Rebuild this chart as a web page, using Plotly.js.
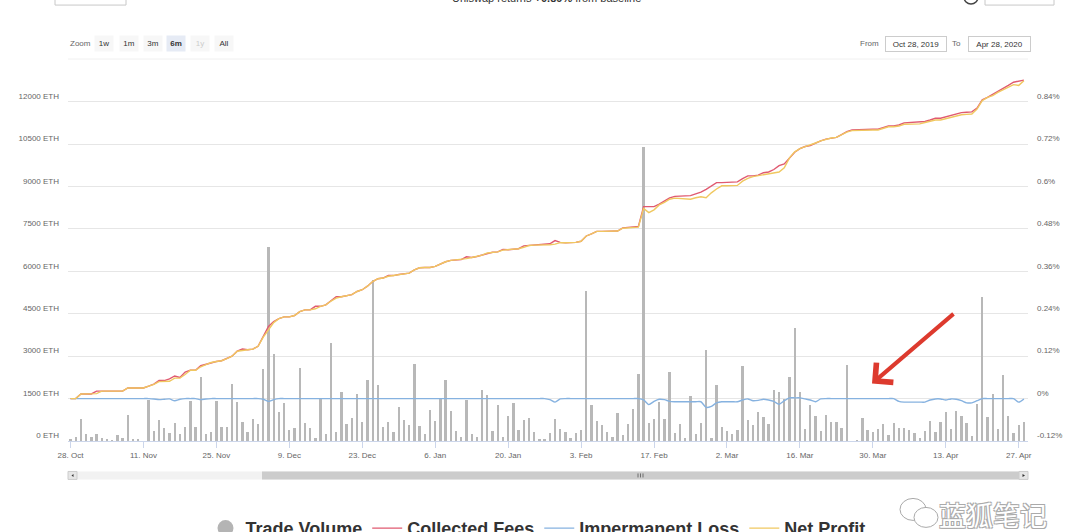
<!DOCTYPE html>
<html><head><meta charset="utf-8">
<script src="https://cdn.plot.ly/plotly-3.0.1.min.js"></script>
<style>html,body{margin:0;padding:0;overflow:hidden;background:#fff}#chart{width:1080px;height:560px}</style>
</head><body><div id="chart"></div>
<script>
// ---- data ----
const startDate = [2019, 9, 28]; // 28 Oct 2019, one value per day
const tradeVolume = [60,150,765,260,150,235,95,80,35,210,
120,905,60,60,0,1435,350,730,470,295,
650,235,505,1410,495,2270,260,330,1410,505,
505,2025,1390,670,320,790,610,2550,6850,3080,
1025,1330,390,450,2590,650,470,95,1470,260,
3470,320,1730,590,825,1670,670,2150,5700,1975,
495,670,320,1210,740,565,2740,530,235,1080,
705,1495,2140,1060,350,150,1435,235,150,1800,
1625,350,1270,150,880,1350,390,730,800,330,
60,60,270,790,410,330,120,270,375,5300,
1260,705,565,330,140,975,210,590,1120,2380,
10400,625,790,1390,765,2435,270,590,95,1590,
260,650,3210,120,1975,495,350,260,390,2650,
740,565,1035,850,610,1790,1740,1470,2270,4000,
1740,410,1270,880,350,905,670,670,470,2700,
15,35,825,375,320,435,590,200,650,450,
470,390,270,95,350,705,320,670,1025,410,
1050,900,620,175,1300,5100,860,1670,410,2350,
880,270,565,670];
const netProfit = [0,0,0.013,0.013,0.013,0.014,0.021,0.021,0.021,0.021,
0.021,0.030,0.030,0.030,0.030,0.035,0.040,0.048,0.049,0.049,
0.058,0.058,0.068,0.080,0.080,0.090,0.096,0.102,0.105,0.107,
0.113,0.120,0.134,0.137,0.138,0.140,0.148,0.174,0.196,0.215,
0.226,0.231,0.231,0.235,0.246,0.251,0.251,0.254,0.261,0.265,
0.276,0.284,0.288,0.292,0.294,0.303,0.308,0.318,0.331,0.339,
0.341,0.346,0.348,0.351,0.352,0.355,0.364,0.370,0.371,0.371,
0.374,0.381,0.387,0.391,0.392,0.393,0.396,0.399,0.402,0.406,
0.412,0.414,0.415,0.420,0.421,0.422,0.424,0.428,0.433,0.434,
0.434,0.435,0.435,0.437,0.441,0.441,0.441,0.442,0.445,0.460,
0.466,0.473,0.473,0.473,0.473,0.474,0.482,0.483,0.484,0.485,
0.538,0.526,0.534,0.548,0.555,0.564,0.567,0.566,0.565,0.564,
0.568,0.571,0.568,0.582,0.593,0.602,0.602,0.602,0.603,0.615,
0.623,0.628,0.631,0.634,0.637,0.639,0.641,0.653,0.681,0.698,
0.707,0.713,0.717,0.723,0.729,0.734,0.737,0.739,0.746,0.754,
0.758,0.759,0.760,0.760,0.760,0.760,0.765,0.769,0.769,0.771,
0.776,0.777,0.777,0.777,0.781,0.785,0.788,0.788,0.792,0.796,
0.800,0.803,0.804,0.805,0.819,0.843,0.852,0.857,0.866,0.873,
0.882,0.888,0.886,0.899];
const collectedFees = [0,0,0.013,0.013,0.013,0.021,0.021,0.021,0.021,0.021,
0.021,0.030,0.030,0.030,0.030,0.035,0.041,0.051,0.051,0.056,
0.064,0.060,0.075,0.080,0.080,0.093,0.097,0.102,0.105,0.107,
0.113,0.120,0.134,0.140,0.138,0.140,0.148,0.176,0.204,0.218,
0.226,0.231,0.231,0.235,0.246,0.251,0.251,0.261,0.261,0.265,
0.276,0.288,0.288,0.292,0.294,0.303,0.308,0.318,0.331,0.339,
0.341,0.348,0.348,0.351,0.352,0.355,0.364,0.370,0.371,0.371,
0.374,0.381,0.387,0.391,0.392,0.393,0.401,0.399,0.402,0.406,
0.412,0.414,0.415,0.422,0.421,0.422,0.424,0.432,0.433,0.434,
0.434,0.435,0.438,0.447,0.442,0.441,0.441,0.442,0.445,0.460,
0.466,0.473,0.473,0.473,0.473,0.474,0.483,0.484,0.486,0.487,
0.543,0.543,0.543,0.550,0.558,0.568,0.572,0.572,0.572,0.574,
0.579,0.584,0.592,0.601,0.611,0.611,0.611,0.611,0.613,0.622,
0.630,0.630,0.632,0.639,0.641,0.648,0.659,0.664,0.679,0.697,
0.707,0.713,0.716,0.723,0.729,0.734,0.737,0.739,0.747,0.755,
0.760,0.761,0.762,0.762,0.762,0.762,0.767,0.771,0.771,0.774,
0.780,0.781,0.781,0.781,0.784,0.788,0.793,0.793,0.797,0.801,
0.805,0.809,0.810,0.811,0.822,0.845,0.852,0.860,0.870,0.878,
0.886,0.895,0.899,0.901];
const impermanentLoss = [0,0,0,0,0,0,0,0,0,0,
0,0,0,0,0,0,-0.001,-0.003,-0.002,-0.001,
-0.006,-0.002,0,0,0,-0.003,-0.001,0,0,0,
0,0,0,0,0,0,0,-0.002,-0.008,-0.003,
0,0,0,0,0,0,0,0,0,0,
0,0,0,0,0,0,0,0,0,0,
0,0,0,0,0,0,0,0,0,0,
0,0,0,0,0,0,0,0,0,0,
0,0,0,0,0,0,0,0,0,0,
0,0,-0.003,-0.010,-0.001,0,0,0,0,0,
0,0,0,0,0,0,0,0,0,0,
-0.004,-0.017,-0.008,-0.002,-0.003,-0.008,-0.009,-0.009,-0.009,-0.009,
-0.009,-0.009,-0.025,-0.022,-0.012,-0.009,-0.009,-0.009,-0.009,-0.004,
-0.001,-0.006,-0.005,-0.002,-0.004,-0.008,-0.016,-0.006,0.002,0.002,
0.002,-0.001,-0.004,-0.009,-0.001,0,0,0,0,0,
0,0,0,0,0,0,0,0,0,-0.008,
-0.010,-0.010,-0.010,-0.010,-0.010,-0.004,-0.001,-0.001,-0.004,-0.001,
-0.002,-0.006,-0.012,-0.012,-0.006,0,0,0,0,0,
0,0,-0.010,-0.001];
const leftTicks = [0,1500,3000,4500,6000,7500,9000,10500,12000];
const leftTickText = ['0 ETH','1500 ETH','3000 ETH','4500 ETH','6000 ETH','7500 ETH','9000 ETH','10500 ETH','12000 ETH'];
const rightTicks = [-0.12,0,0.12,0.24,0.36,0.48,0.6,0.72,0.84];
const rightTickText = ['-0.12%','0%','0.12%','0.24%','0.36%','0.48%','0.6%','0.72%','0.84%'];
const xTickDates = ['2019-10-28','2019-11-11','2019-11-25','2019-12-09','2019-12-23','2020-01-06','2020-01-20','2020-02-03','2020-02-17','2020-03-02','2020-03-16','2020-03-30','2020-04-13','2020-04-27'];
const xTickText = ['28. Oct','11. Nov','25. Nov','9. Dec','23. Dec','6. Jan','20. Jan','3. Feb','17. Feb','2. Mar','16. Mar','30. Mar','13. Apr','27. Apr'];
const seriesNames = ['Trade Volume','Collected Fees','Impermanent Loss','Net Profit'];
const zoomButtons = ['1w','1m','3m','6m','1y','All'];
const fromText = 'Oct 28, 2019', toText = 'Apr 28, 2020';
const titleText = 'Uniswap returns <b>+0.89%</b> from baseline';
const watermark = '蓝狐笔记';

// ---- build ----
const dates = tradeVolume.map((_, i) => new Date(Date.UTC(startDate[0], startDate[1], startDate[2] + i)).toISOString().slice(0, 10));
const W = 1080, H = 560, ML = 68, MR = 52, MT = 62, MB = 118.5;
const PW = W - ML - MR, PH = H - MT - MB;
const fx = x => (x - ML) / PW, fy = y => (H - MB - y) / PH;
const FONT = 'Liberation Sans, Arial, sans-serif';

const traces = [
  {type: 'bar', x: dates, y: tradeVolume, yaxis: 'y', name: seriesNames[0], showlegend: false,
   marker: {color: '#b8b8b8', line: {width: 0}}, width: 0.45 * 86400000},
  {type: 'scatter', mode: 'markers', x: [null], y: [null], name: seriesNames[0], yaxis: 'y',
   marker: {color: '#b4b4b4', size: 17, symbol: 'circle'}},
  {type: 'scatter', mode: 'lines', x: dates, y: collectedFees, yaxis: 'y2', name: seriesNames[1],
   line: {color: '#e05a70', width: 1.4}},
  {type: 'scatter', mode: 'lines', x: dates, y: impermanentLoss, yaxis: 'y2', name: seriesNames[2],
   line: {color: '#86b2e0', width: 1.4, shape: 'spline', smoothing: 0.7}},
  {type: 'scatter', mode: 'lines', x: dates, y: netProfit, yaxis: 'y2', name: seriesNames[3],
   line: {color: '#f0c860', width: 1.4}}
];

const ann = [];
const shapes = [];
const small = {family: FONT, size: 8, color: '#666666'};
// range selector
ann.push({xref: 'paper', yref: 'paper', x: fx(68), y: fy(43), xanchor: 'left', yanchor: 'middle', text: 'Zoom', showarrow: false, font: small});
const btnCx = [103.5, 128.5, 152.5, 176, 199.5, 224];
zoomButtons.forEach((b, i) => {
  ann.push({xref: 'paper', yref: 'paper', x: fx(btnCx[i]), y: fy(43), xanchor: 'center', yanchor: 'middle',
    text: b === '6m' ? '<b>' + b + '</b>' : b, showarrow: false, width: 18, height: 15, borderpad: 0,
    bgcolor: b === '6m' ? '#e6ebf5' : '#f7f7f7',
    font: {family: FONT, size: 8, color: b === '1y' ? '#cccccc' : '#333333'}});
});
ann.push({xref: 'paper', yref: 'paper', x: fx(881), y: fy(43), xanchor: 'right', yanchor: 'middle', text: 'From', showarrow: false, font: small});
ann.push({xref: 'paper', yref: 'paper', x: fx(916), y: fy(44), xanchor: 'center', yanchor: 'middle', text: fromText, showarrow: false,
  width: 60, height: 14, borderpad: 0, bordercolor: '#cccccc', borderwidth: 1, bgcolor: '#ffffff', font: {family: FONT, size: 8, color: '#333'}});
ann.push({xref: 'paper', yref: 'paper', x: fx(963), y: fy(43), xanchor: 'right', yanchor: 'middle', text: 'To', showarrow: false, font: small});
ann.push({xref: 'paper', yref: 'paper', x: fx(999.5), y: fy(44), xanchor: 'center', yanchor: 'middle', text: toText, showarrow: false,
  width: 61, height: 14, borderpad: 0, bordercolor: '#cccccc', borderwidth: 1, bgcolor: '#ffffff', font: {family: FONT, size: 8, color: '#333'}});
// cut-off header
ann.push({xref: 'paper', yref: 'paper', x: fx(546), y: fy(-2.5), xanchor: 'center', yanchor: 'middle', text: titleText, showarrow: false,
  font: {family: FONT, size: 11, color: '#333'}});
ann.push({xref: 'paper', yref: 'paper', x: fx(62), y: fy(-5), xanchor: 'left', yanchor: 'middle', text: 'sETH', showarrow: false,
  font: {family: FONT, size: 11, color: '#333'}});
ann.push({xref: 'paper', yref: 'paper', x: fx(992), y: fy(-5), xanchor: 'left', yanchor: 'middle', text: 'Real basis', showarrow: false,
  font: {family: FONT, size: 11, color: '#333'}});
shapes.push({type: 'rect', xref: 'paper', yref: 'paper', x0: fx(55), x1: fx(126), y0: fy(-20), y1: fy(5), line: {color: '#c8c8c8', width: 1}, fillcolor: 'rgba(0,0,0,0)'});
shapes.push({type: 'rect', xref: 'paper', yref: 'paper', x0: fx(985), x1: fx(1054), y0: fy(-20), y1: fy(5), line: {color: '#c8c8c8', width: 1}, fillcolor: 'rgba(0,0,0,0)'});
shapes.push({type: 'circle', xref: 'paper', yref: 'paper', x0: fx(964), x1: fx(978), y0: fy(-10), y1: fy(4), line: {color: '#444', width: 1.5}});
// faint separator
shapes.push({type: 'line', xref: 'paper', yref: 'paper', x0: fx(68), x1: fx(1028), y0: fy(59), y1: fy(59), line: {color: '#f0f0f0', width: 1}});
// scrollbar
shapes.push({type: 'rect', xref: 'paper', yref: 'paper', x0: fx(68), x1: fx(1028), y0: fy(472), y1: fy(480), line: {width: 0}, fillcolor: '#f2f2f2'});
shapes.push({type: 'rect', xref: 'paper', yref: 'paper', x0: fx(262), x1: fx(1019), y0: fy(472), y1: fy(480), line: {width: 0}, fillcolor: '#cccccc'});
shapes.push({type: 'rect', xref: 'paper', yref: 'paper', x0: fx(68), x1: fx(77), y0: fy(472), y1: fy(480), line: {color: '#cccccc', width: 1}, fillcolor: '#e6e6e6'});
shapes.push({type: 'rect', xref: 'paper', yref: 'paper', x0: fx(1019), x1: fx(1028), y0: fy(472), y1: fy(480), line: {color: '#cccccc', width: 1}, fillcolor: '#e6e6e6'});
shapes.push({type: 'path', xref: 'paper', yref: 'paper', path: `M${fx(71.5)},${fy(476)} L${fx(73.5)},${fy(474.5)} L${fx(73.5)},${fy(477.5)} Z`, fillcolor: '#333', line: {width: 0}});
shapes.push({type: 'path', xref: 'paper', yref: 'paper', path: `M${fx(1025)},${fy(476)} L${fx(1022.5)},${fy(474.5)} L${fx(1022.5)},${fy(477.5)} Z`, fillcolor: '#333', line: {width: 0}});
[638, 640.5, 643].forEach(g => shapes.push({type: 'line', xref: 'paper', yref: 'paper', x0: fx(g), x1: fx(g), y0: fy(474), y1: fy(478), line: {color: '#555', width: 0.8}}));
// red arrow (annotation on the picture)
ann.push({xref: 'paper', yref: 'paper', x: fx(872), y: fy(384), ax: 83, ay: -71, text: '', showarrow: true,
  arrowhead: 4, arrowsize: 1.25, arrowwidth: 4, arrowcolor: '#dd3a2e', standoff: 0});
// watermark
ann.push({xref: 'paper', yref: 'paper', x: fx(993), y: fy(515), xanchor: 'center', yanchor: 'middle', text: watermark, showarrow: false,
  font: {family: 'Noto Sans CJK SC', size: 27, color: '#ffffff', shadow: '1px 1px 0 #aaa, -1px -1px 0 #aaa, 1px -1px 0 #aaa, -1px 1px 0 #aaa'}});
shapes.push({type: 'circle', xref: 'paper', yref: 'paper', x0: fx(900), x1: fx(926), y0: fy(499), y1: fy(521), line: {color: '#aaaaaa', width: 1}});
shapes.push({type: 'circle', xref: 'paper', yref: 'paper', x0: fx(914), x1: fx(938), y0: fy(508), y1: fy(528), line: {color: '#aaaaaa', width: 1}, fillcolor: '#ffffff'});

const layout = {
  width: W, height: H,
  margin: {l: ML, r: MR, t: MT, b: MB, autoexpand: false},
  paper_bgcolor: '#ffffff', plot_bgcolor: '#ffffff',
  font: {family: FONT, size: 8, color: '#666'},
  bargap: 0,
  xaxis: {type: 'date', range: ['2019-10-27 12:30', '2020-04-28 18:45'], tickvals: xTickDates, ticktext: xTickText,
    ticks: 'outside', ticklen: 6, tickcolor: '#ccd6eb', showgrid: false, showline: true, linecolor: '#ccd6eb',
    zeroline: false, tickfont: {family: FONT, size: 8, color: '#666'}},
  yaxis: {range: [0, PH / 28.317 * 1000], tickvals: leftTicks, ticktext: leftTickText, showgrid: true, gridcolor: '#e6e6e6',
    zeroline: false, ticks: '', ticklabelposition: 'outside top', ticklabelstandoff: 8, tickfont: {family: FONT, size: 8, color: '#666'}},
  yaxis2: {overlaying: 'y', side: 'right', range: [-0.12, -0.12 + PH / 42.475 * 0.12], tickvals: rightTicks, ticktext: rightTickText,
    showgrid: false, zeroline: false, ticks: '', ticklabelposition: 'outside top', ticklabelstandoff: 8, tickfont: {family: FONT, size: 8, color: '#666'}},
  showlegend: true,
  legend: {orientation: 'h', x: fx(538), xanchor: 'center', y: fy(529), yanchor: 'middle',
    font: {family: FONT, size: 18, color: '#333', weight: 'bold'}, bgcolor: 'rgba(0,0,0,0)'},
  annotations: ann,
  shapes: shapes
};
Plotly.newPlot('chart', traces, layout, {displayModeBar: false, staticPlot: true});
</script></body></html>
